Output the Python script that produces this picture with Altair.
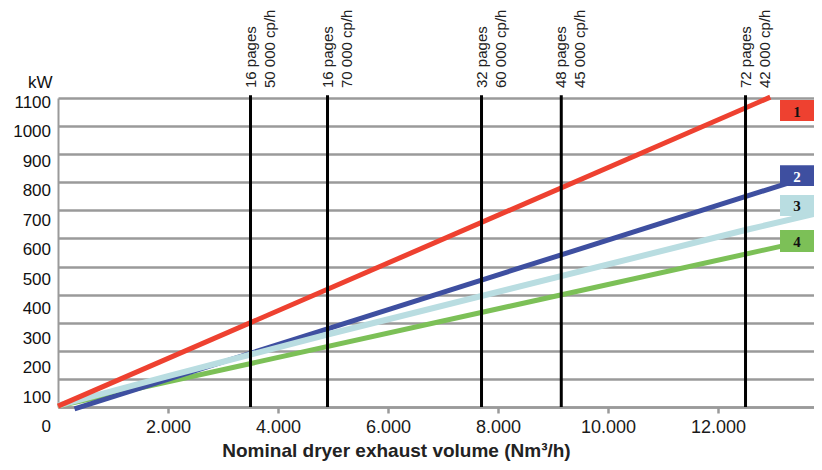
import altair as alt
import pandas as pd

# ---------------- data ----------------
series_names = ["1", "2", "3", "4"]
series_colors = ["#EE4130", "#3E4FA0", "#B9DDE1", "#7CC057"]
series_widths = [5, 5, 6, 5]

red_x = [0, 12950]
red_y = [3, 1103]
blue_x = [300, 13850]
blue_y = [-7, 833]
lightblue_x = [0, 1950, 4900, 12500, 13900]
lightblue_y = [5, 107, 258, 630, 694]
green_x = [0, 13900]
green_y = [3, 605]

vline_x = [3500, 4900, 7700, 9150, 12500]
vline_labels = [
    "16 pages\n50 000 cp/h",
    "16 pages\n70 000 cp/h",
    "32 pages\n60 000 cp/h",
    "48 pages\n45 000 cp/h",
    "72 pages\n42 000 cp/h",
]

y_ticks = list(range(0, 1200, 100))
x_ticks = [2000, 4000, 6000, 8000, 10000, 12000]

legend_ids = ["1", "2", "3", "4"]
legend_top = [1093, 861, 755, 630]
legend_bottom = [1018, 787, 680, 552]
legend_x0 = 13127
legend_x1 = 13830
legend_text_x = 13436
legend_text_colors = ["#111111", "#FFFFFF", "#111111", "#111111"]

# ---------------- styles ----------------
SANS = "Liberation Sans, Arial, Helvetica"
GRAY = "#9a9a9a"

xscale = alt.Scale(domain=[0, 13745], nice=False, zero=False)
yscale = alt.Scale(domain=[0, 1100], nice=False, zero=False)

x_axis = alt.Axis(
    values=x_ticks,
    labelExpr="replace(format(datum.value, ','), ',', '.')",
    grid=False,
    domainColor=GRAY, domainWidth=2.5,
    tickColor=GRAY, tickWidth=2.5, tickSize=6,
    labelFont=SANS, labelFontSize=18, labelColor="#1a1a1a", labelPadding=5,
    title="Nominal dryer exhaust volume (Nm³/h)",
    titleFont=SANS, titleFontSize=19, titleFontWeight="bold", titleColor="#222222",
    titleX=338, titleY=49, titleAlign="center", titleBaseline="alphabetic",
    titleAnchor="start",
)
y_axis = alt.Axis(
    values=y_ticks,
    labels=False, ticks=False,
    grid=True, gridColor=GRAY, gridWidth=2.5,
    domainColor=GRAY, domainWidth=2,
    title="kW", titleAngle=0, titleAlign="right", titleBaseline="alphabetic",
    titleX=-6, titleY=-11, titleFont=SANS, titleFontSize=17,
    titleFontWeight="normal", titleColor="#111111",
)


def X(field):
    return alt.X(field, scale=xscale, axis=x_axis)


def Y(field):
    return alt.Y(field, scale=yscale, axis=y_axis)


series_data = [
    (red_x, red_y),
    (blue_x, blue_y),
    (lightblue_x, lightblue_y),
    (green_x, green_y),
]
draw_order = [3, 1, 2, 0]  # green, blue, light blue, red

layers = []
for i in draw_order:
    xs, ys = series_data[i]
    df = pd.DataFrame({"x": xs, "y": ys})
    layers.append(
        alt.Chart(df).mark_line(
            color=series_colors[i], strokeWidth=series_widths[i], strokeCap="butt", clip=False
        ).encode(x=X("x:Q"), y=Y("y:Q"))
    )

# vertical black lines
vdf = pd.DataFrame({"x": vline_x, "label": vline_labels})
layers.append(
    alt.Chart(vdf).mark_rule(color="#000000", strokeWidth=3).encode(
        x=X("x:Q"),
        y=alt.YDatum(1110, scale=yscale, axis=y_axis),
        y2=alt.Y2Datum(0),
    )
)
layers.append(
    alt.Chart(vdf).mark_text(
        angle=270, align="left", baseline="middle", lineBreak="\n", lineHeight=19,
        font=SANS, fontSize=15, color="#222222",
    ).encode(
        x=X("x:Q"),
        y=alt.value(-10),
        text="label:N",
    )
)

# legend boxes
ldf = pd.DataFrame({
    "id": legend_ids,
    "top": legend_top,
    "bottom": legend_bottom,
    "color": series_colors,
    "tcolor": legend_text_colors,
})
ldf["x0"] = legend_x0
ldf["x1"] = legend_x1
ldf["tx"] = legend_text_x
ldf["mid"] = (ldf["top"] + ldf["bottom"]) / 2
layers.append(
    alt.Chart(ldf).mark_rect(clip=False).encode(
        x=X("x0:Q"),
        x2="x1:Q",
        y=Y("top:Q"),
        y2="bottom:Q",
        color=alt.Color("color:N", scale=None),
    )
)
layers.append(
    alt.Chart(ldf).mark_text(
        font="Liberation Serif, Times New Roman, serif", fontSize=15, fontWeight="bold",
        align="center", baseline="middle", dy=1,
    ).encode(
        x=X("tx:Q"),
        y=Y("mid:Q"),
        text="id:N",
        color=alt.Color("tcolor:N", scale=None),
    )
)

# y tick labels (printed with their own, slightly looser spacing than the grid)
ydf = pd.DataFrame({"v": y_ticks})
layers.append(
    alt.Chart(ydf).transform_calculate(
        y="1082.2 - (1100 - datum.v) * 1.05"
    ).mark_text(
        align="right", baseline="middle", font=SANS, fontSize=17, color="#111111"
    ).encode(
        x=alt.value(-7),
        y=Y("y:Q"),
        text="v:N",
    )
)

chart = alt.layer(*layers).properties(
    width=756,
    height=309,
    padding={"left": 50, "top": 90, "right": 0, "bottom": 55},
    autosize=alt.AutoSizeParams(type="none"),
    background="white",
).configure_view(stroke=None)

chart.save("out.html", embed_options={"renderer": "svg", "actions": False})
